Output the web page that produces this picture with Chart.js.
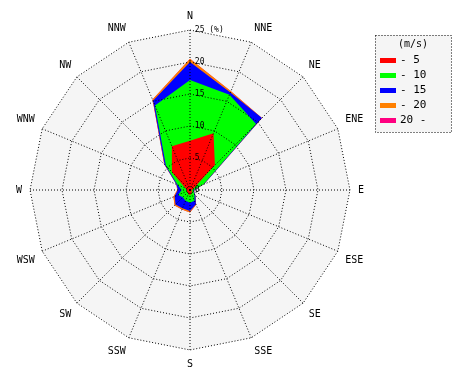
<!DOCTYPE html>
<html>
<head>
<meta charset="utf-8">
<script src="https://cdn.jsdelivr.net/npm/chart.js@4"></script>
<style>
  html, body { margin: 0; padding: 0; background: #fff; }
  #wrap { width: 470px; height: 380px; }
</style>
</head>
<body>
<div id="wrap"><canvas id="windRose" width="470" height="380"></canvas></div>
<script>
// wind directions, clockwise from north
const directions = ["N", "NNE", "NE", "ENE", "E", "ESE", "SE", "SSE", "S", "SSW", "SW", "WSW", "W", "WNW", "NW", "NNW"];

// cumulative frequency (%) per speed class
const upTo5 = [7.7, 9.6, 5.5, 0.6, 0.3, 0.3, 0.4, 0.6, 0.8, 0.7, 0.5, 0.5, 0.5, 0.8, 4.0, 7.4];
const upTo10 = [17.2, 16.1, 14.6, 2.3, 0.6, 0.6, 1.0, 1.8, 2.0, 1.8, 1.6, 2.0, 1.3, 2.1, 5.3, 14.3];
const upTo15 = [20.0, 16.5, 15.9, 2.4, 0.7, 0.7, 1.2, 2.4, 3.3, 3.1, 3.2, 2.6, 1.9, 2.3, 5.6, 15.1];
const upTo20 = [20.5, 16.7, 15.9, 2.4, 0.7, 0.7, 1.2, 2.5, 3.5, 3.3, 3.4, 2.8, 2.0, 2.3, 5.7, 15.3];
const over20 = [20.5, 16.7, 15.9, 2.4, 0.7, 0.7, 1.2, 2.5, 3.5, 3.3, 3.4, 2.8, 2.0, 2.3, 5.7, 15.3];

const speedLabels = ["- 5", "- 10", "- 15", "- 20", "20 -"];
const speedColors = ["#ff0000", "#00ff00", "#0000ff", "#ff8000", "#ff0080"];
const tickLabels = { 0: "0", 5: "5", 10: "10", 15: "15", 20: "20", 25: "25 (%)" };

const monoFont = '"DejaVu Sans Mono", monospace';

// grey polygon behind the data (grid itself is drawn on top)
const roseBackground = {
  id: "roseBackground",
  beforeDatasetsDraw(chart) {
    const scale = chart.scales.r;
    const ctx = chart.ctx;
    ctx.save();
    ctx.beginPath();
    for (let i = 0; i < directions.length; i++) {
      const p = scale.getPointPosition(i, scale.drawingArea);
      if (i === 0) ctx.moveTo(p.x, p.y);
      else ctx.lineTo(p.x, p.y);
    }
    ctx.closePath();
    ctx.fillStyle = "#f5f5f5";
    ctx.fill();
    ctx.restore();
  }
};

// boxed legend with dotted border
const legendBox = {
  id: "legendBox",
  afterDraw(chart) {
    const ctx = chart.ctx;
    const x = 375, y = 35, w = 76, h = 97;
    ctx.save();
    ctx.fillStyle = "#f5f5f5";
    ctx.fillRect(x, y, w, h);
    ctx.setLineDash([1, 2]);
    ctx.strokeStyle = "#000";
    ctx.lineWidth = 1;
    ctx.strokeRect(x + 0.5, y + 0.5, w, h);
    ctx.setLineDash([]);
    ctx.textBaseline = "middle";
    ctx.fillStyle = "#000";
    ctx.font = "10px " + monoFont;
    ctx.textAlign = "center";
    ctx.fillText("(m/s)", x + w / 2, y + 9);
    ctx.font = "11px " + monoFont;
    ctx.textAlign = "left";
    chart.data.datasets.forEach((ds, i) => {
      const yy = y + 25 + i * 15;
      ctx.fillStyle = ds.backgroundColor;
      ctx.fillRect(x + 5, yy - 2, 16, 5);
      ctx.fillStyle = "#000";
      ctx.fillText(ds.label, x + 25, yy);
    });
    ctx.restore();
  }
};

const series = [upTo5, upTo10, upTo15, upTo20, over20];

new Chart(document.getElementById("windRose"), {
  type: "radar",
  data: {
    labels: directions,
    datasets: series.map((values, i) => ({
      label: speedLabels[i],
      data: values,
      backgroundColor: speedColors[i],
      borderColor: speedColors[i],
      borderWidth: 0,
      pointRadius: 0,
      pointHoverRadius: 0,
      tension: 0,
      fill: "origin"
    }))
  },
  options: {
    responsive: false,
    animation: false,
    layout: {
      padding: { left: 16, right: 106, top: 9, bottom: 9 }
    },
    plugins: {
      legend: { display: false },
      tooltip: { enabled: false }
    },
    scales: {
      r: {
        min: -0.001,
        max: 25,
        grid: { color: "#000", lineWidth: 1, z: 1 },
        border: { dash: [1, 2] },
        angleLines: { color: "#000", lineWidth: 1, borderDash: [1, 2] },
        pointLabels: {
          color: "#000",
          padding: 2,
          font: { family: monoFont, size: 10 }
        },
        ticks: {
          z: 1,
          stepSize: 5,
          color: "#000",
          showLabelBackdrop: false,
          font: { family: monoFont, size: 8 },
          callback: (value) => {
            const v = Math.round(value);
            const text = tickLabels[v];
            if (text === undefined) return "";
            return " ".repeat(text.length + 2) + text;
          }
        }
      }
    }
  },
  plugins: [roseBackground, legendBox]
});
</script>
</body>
</html>
